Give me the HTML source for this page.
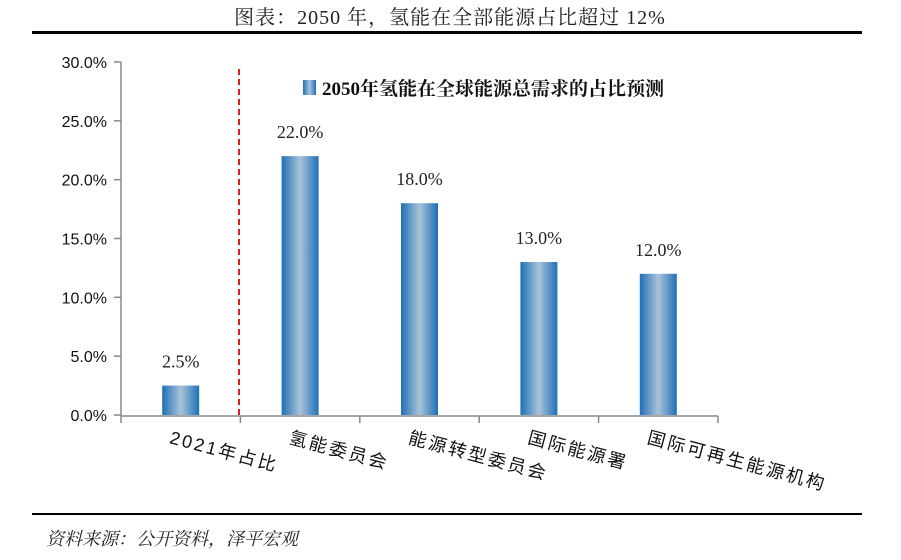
<!DOCTYPE html>
<html><head><meta charset="utf-8"><style>
body{margin:0;background:#fff;width:901px;height:555px;overflow:hidden;font-family:"Liberation Serif","Noto Serif CJK SC",serif}
</style></head><body>
<svg width="901" height="555" xmlns="http://www.w3.org/2000/svg">
<defs>
<linearGradient id="g" x1="0" x2="1" y1="0" y2="0">
<stop offset="0" stop-color="#1f6fb8"/><stop offset="0.5" stop-color="#a9c3d8"/><stop offset="1" stop-color="#1f6fb8"/>
</linearGradient>
</defs>
<text x="450" y="24" text-anchor="middle" font-size="20" fill="#222" letter-spacing="1" font-family="Liberation Serif, Noto Serif CJK SC, serif">图表：2050 年，氢能在全部能源占比超过 12%</text>
<line x1="32" y1="32.5" x2="862" y2="32.5" stroke="#000" stroke-width="3"/>
<g id="axes"></g>
<g id="bars"></g>
<line x1="239" y1="69" x2="239" y2="416" stroke="#e02020" stroke-width="2" stroke-dasharray="6,4"/>
<rect x="303" y="80" width="13" height="15" fill="url(#g)"/>
<text x="322" y="95" font-size="19" font-weight="bold" fill="#111" font-family="Liberation Serif, Noto Serif CJK SC, serif">2050年氢能在全球能源总需求的占比预测</text>
<line x1="32" y1="514" x2="862" y2="514" stroke="#000" stroke-width="2"/>
<text x="46" y="545" font-size="18" font-style="italic" fill="#222" font-family="Liberation Serif, Noto Serif CJK SC, serif">资料来源：公开资料，泽平宏观</text>
</svg>
<script>
const categories=["2021年占比","氢能委员会","能源转型委员会","国际能源署","国际可再生能源机构"];
const values=[2.5,22.0,18.0,13.0,12.0];
const valueLabels=["2.5%","22.0%","18.0%","13.0%","12.0%"];
const yTicks=[0,5,10,15,20,25,30];
const yTickLabels=["0.0%","5.0%","10.0%","15.0%","20.0%","25.0%","30.0%"];
const NS="http://www.w3.org/2000/svg";
const x0=121,x1=718,yTop=62,yBot=415,yMax=30;
const band=(x1-x0)/categories.length;
const yS=v=>yBot-(v/yMax)*(yBot-yTop);
const xC=i=>x0+band*(i+0.5);
function mk(tag,attrs,parent){const e=document.createElementNS(NS,tag);for(const k in attrs)e.setAttribute(k,attrs[k]);parent.appendChild(e);return e;}
const ax=document.getElementById('axes'),bg=document.getElementById('bars');
let l=mk('line',{x1:x0,y1:yTop,x2:x0,y2:yBot+1,stroke:'#888','stroke-width':1.5},ax);


l=mk('line',{x1:x0,y1:yBot+1,x2:x1,y2:yBot+1,stroke:'#888','stroke-width':1.5},ax);


yTicks.forEach((t,i)=>{
 const y=yS(t);
 const tk=mk('line',{x1:x0-7,y1:y,x2:x0,y2:y,stroke:'#888','stroke-width':1.5},ax);
 
 
 const tx=mk('text',{x:x0-14,y:y+6,'text-anchor':'end','font-size':16,fill:'#111','font-family':'Liberation Sans, sans-serif'},ax);
 tx.textContent=yTickLabels[i];
 
 
});
for(let i=0;i<=categories.length;i++){
 const x=x0+band*i;
 const tk=mk('line',{x1:x,y1:yBot+1,x2:x,y2:yBot+8,stroke:'#888','stroke-width':1.5},ax);
 
 
}
categories.forEach((c,i)=>{
 const cx=xC(i),w=37,y=yS(values[i]);
 const r=mk('rect',{x:cx-w/2,y:y,width:w,height:yBot-y,fill:'url(#g)'},bg);
 
 
 const vl=mk('text',{x:cx,y:y-18,'text-anchor':'middle','font-size':18,fill:'#222','font-family':'Liberation Serif, Noto Serif CJK SC, serif'},bg);
 vl.textContent=valueLabels[i];
 
 
 const lx=cx-12,ly=443;
 const cl=mk('text',{x:lx,y:ly,'font-size':18,fill:'#111',transform:`rotate(15 ${lx} ${ly})`,'letter-spacing':'2.5','font-family':'Liberation Sans, Noto Sans CJK SC, sans-serif'},bg);
 cl.textContent=c;
 
 
});
</script>
</body></html>
